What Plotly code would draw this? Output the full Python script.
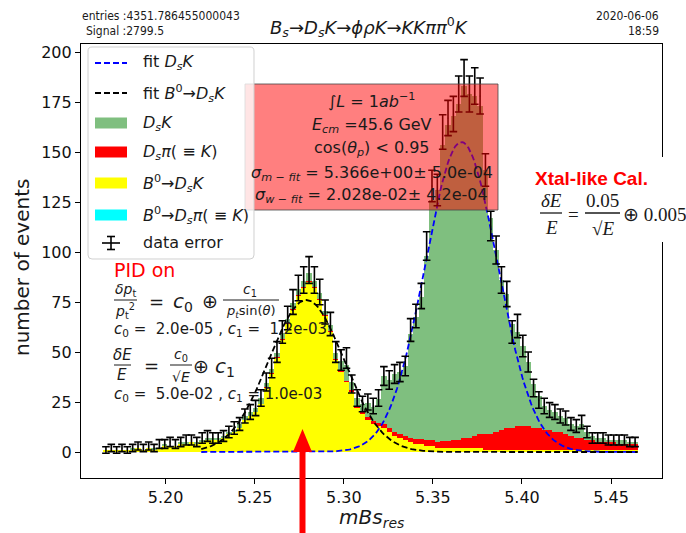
import numpy as np
import plotly.graph_objects as go

# ---------------------------------------------------------------- data
# 100 bins of the reconstructed Bs mass between 5.165 and 5.465
bin_edges = np.linspace(5.165, 5.465, 101)

data_counts = [
    1, 2, 1, 2, 1, 2, 3, 2, 3, 2,
    4, 4, 5, 4, 5, 6, 6, 5, 7, 8,
    7, 7, 8, 10, 12, 14, 18, 20, 22, 27,
    35, 42, 50, 60, 67, 75, 82, 86, 91, 86,
    80, 70, 64, 50, 46, 47, 34, 27, 24, 25,
    23, 27, 38, 36, 39, 40, 43, 61, 68, 78,
    103, 133, 131, 160, 167, 169, 179, 187, 179, 183,
    178, 141, 113, 101, 86, 79, 60, 63, 53, 45,
    32, 26, 23, 21, 20, 18, 17, 14, 13, 15,
    10, 7, 7, 7, 6, 6, 6, 6, 5, 5,
]
data_err = [
    1.6, 1.8, 1.6, 1.8, 1.6, 1.8, 2.0, 1.8, 2.0, 1.8,
    2.2, 2.2, 2.3, 2.2, 2.3, 2.5, 2.5, 2.3, 2.6, 2.7,
    2.6, 2.6, 2.7, 2.9, 3.1, 3.2, 3.5, 3.7, 3.8, 4.1,
    4.5, 4.9, 5.2, 5.6, 5.9, 6.2, 6.4, 6.6, 6.7, 6.6,
    6.4, 6.0, 5.8, 5.2, 5.1, 5.1, 4.5, 4.1, 3.9, 4.0,
    3.9, 4.1, 4.7, 4.6, 4.7, 4.8, 4.9, 5.7, 5.9, 6.3,
    7.1, 7.9, 7.9, 8.6, 8.8, 8.8, 9.0, 9.2, 9.0, 9.1,
    9.0, 8.1, 7.4, 7.0, 6.6, 6.3, 5.6, 5.8, 5.4, 5.0,
    4.4, 4.1, 3.9, 3.7, 3.7, 3.5, 3.5, 3.2, 3.2, 3.3,
    2.9, 2.6, 2.6, 2.6, 2.5, 2.5, 2.5, 2.5, 2.3, 2.3,
]
b0_dsk = [
    1, 1, 1, 1, 1, 1, 2, 1, 2, 1,
    2, 3, 3, 3, 4, 4, 5, 4, 5, 6,
    6, 6, 7, 9, 10, 12, 16, 18, 20, 24,
    32, 39, 47, 56, 64, 71, 78, 82, 85, 82,
    76, 68, 60, 46, 40, 35, 30, 22, 19, 16,
    14, 13, 12, 10, 8, 7, 6, 5, 4, 4,
    3, 3, 2, 2, 2, 2, 2, 2, 2, 2,
    2, 1, 1, 1, 1, 1, 1, 1, 1, 1,
    1, 1, 1, 1, 1, 1, 1, 1, 1, 1,
    1, 1, 1, 1, 1, 1, 1, 1, 1, 1,
]
b0_dspi = [0] * 100
dspi = [
    0, 0, 0, 0, 0, 0, 0, 0, 0, 0,
    0, 0, 0, 0, 0, 0, 0, 0, 0, 0,
    0, 0, 0, 0, 0, 0, 0, 0, 0, 0,
    0.5, 0.5, 0.5, 0.5, 0.5, 0.5, 0.5, 0.5, 0.5, 0.5,
    0.5, 0.5, 0.5, 0.5, 0.5, 0.5, 1, 1, 1, 1.5,
    1.5, 1.5, 2, 2, 2, 2, 2, 2, 2.5, 2.5,
    3, 3, 3, 3.5, 3.5, 4, 4, 5, 5, 6,
    7, 8, 8, 9, 10, 11, 11, 12, 12, 12,
    11, 11, 10, 10, 9, 9, 8, 7, 6, 6,
    5, 5, 4, 4, 4, 4, 3, 3, 3, 3,
]
dsk = [
    0, 0, 0, 0, 0, 1, 0, 0, 0, 1,
    0, 1, 0, 0, 1, 1, 0, 1, 1, 1,
    1, 1, 1, 1, 1, 2, 2, 2, 2, 3,
    2, 2, 2, 3, 2, 3, 3, 3, 4, 3,
    3, 2, 3, 3, 5, 8, 4, 4, 4, 7,
    7, 12, 24, 24, 29, 31, 35, 52, 61, 71,
    92, 120, 126, 148, 158, 162, 168, 176, 172, 170,
    164, 132, 108, 91, 75, 67, 52, 47, 40, 32,
    22, 16, 12, 10, 10, 8, 8, 6, 6, 7,
    4, 2, 2, 2, 1, 1, 2, 2, 1, 1,
]

# fitted Gaussian shapes (mean, width, height)
fit_dsk = (5.366, 0.02028, 155.0)
fit_b0 = (5.279, 0.0210, 76.0)
fit_range = (5.22, 5.465)

# ---------------------------------------------------------------- page geometry
W, H = 686, 533
PL, PR, PT, PB = 81, 662, 44, 478


def px(x):
    return (x - PL) / (PR - PL)


def py(y):
    return (PB - y) / (PB - PT)


def pt(x, y):
    return f"{px(x):.5f},{py(y):.5f}"


centers = 0.5 * (bin_edges[:-1] + bin_edges[1:])
bw = bin_edges[1] - bin_edges[0]

fig = go.Figure()

# stacked histogram components, bottom to top
for vals, col in [(b0_dsk, "#ffff00"), (b0_dspi, "#00ffff"),
                  (dspi, "#ff0000"), (dsk, "#7fbf7f")]:
    fig.add_trace(go.Bar(x=centers, y=vals, width=bw, marker_color=col,
                         marker_line_width=0, showlegend=False,
                         hoverinfo="skip"))


def gauss(x, mean, sigma, amp):
    return amp * np.exp(-0.5 * ((x - mean) / sigma) ** 2)


xf = np.linspace(fit_range[0], fit_range[1], 300)
fig.add_trace(go.Scatter(x=xf, y=gauss(xf, *fit_dsk), mode="lines",
                         line=dict(color="#0000ff", width=1.8, dash="6px,3px"),
                         showlegend=False))
fig.add_trace(go.Scatter(x=xf, y=gauss(xf, *fit_b0), mode="lines",
                         line=dict(color="black", width=1.8, dash="6px,3px"),
                         showlegend=False))

fig.add_trace(go.Scatter(x=centers, y=data_counts, mode="markers",
                         marker=dict(size=1, color="black"),
                         error_y=dict(type="data", array=data_err,
                                      color="black", thickness=1.6, width=3.8),
                         showlegend=False))

shapes = []
ann = []

TXT = "#1a1a1a"
SANS = "DejaVu Sans"
SERIF = "Liberation Serif"


def text(s, x, y, size=16, color=TXT, xa="center", ya="middle", family=SANS,
         angle=0):
    ann.append(dict(text=s, x=px(x), y=py(y), xref="paper", yref="paper",
                    xanchor=xa, yanchor=ya, showarrow=False, textangle=angle,
                    font=dict(size=size, color=color, family=family)))


def hline(x0, x1, y, color=TXT, w=1.0):
    shapes.append(dict(type="line", xref="paper", yref="paper",
                       x0=px(x0), x1=px(x1), y0=py(y), y1=py(y),
                       line=dict(color=color, width=w), layer="above"))


def vline(x, y0, y1, color=TXT, w=1.0):
    shapes.append(dict(type="line", xref="paper", yref="paper",
                       x0=px(x), x1=px(x), y0=py(y0), y1=py(y1),
                       line=dict(color=color, width=w), layer="above"))


def rect(x0, y0, x1, y1, fill, line=None, lw=0):
    shapes.append(dict(type="rect", xref="paper", yref="paper",
                       x0=px(x0), x1=px(x1), y0=py(y1), y1=py(y0),
                       fillcolor=fill,
                       line=dict(color=line or "rgba(0,0,0,0)", width=lw),
                       layer="above"))


# ---- axis titles
text("<i>mBs</i><sub><i>res</i></sub>", 371, 518, size=20)
text("number of events", 22, 268, size=20, angle=-90)

# ---- info box
rect(245, 84, 498, 210, "rgba(255,0,0,0.5)", "rgba(70,70,70,0.8)", 1)
cx = 371.5
text("∫<i>L</i> = 1<i>ab</i><sup>−1</sup>", cx, 100)
text("<i>E</i><sub><i>cm</i></sub> =45.6 GeV", cx, 125)
text("cos(<i>θ</i><sub><i>p</i></sub>) < 0.95", cx, 148)
text("<i>σ</i><sub><i>m − fit</i></sub> = 5.366e+00± 5.0e-04", cx, 173)
text("<i>σ</i><sub><i>w − fit</i></sub> = 2.028e-02± 4.2e-04", cx, 195)

# ---- legend
x0, y0, x1, y1, r = 88, 47, 254, 259, 4
path = (f"M {pt(x0 + r, y0)} L {pt(x1 - r, y0)} Q {pt(x1, y0)} {pt(x1, y0 + r)} "
        f"L {pt(x1, y1 - r)} Q {pt(x1, y1)} {pt(x1 - r, y1)} "
        f"L {pt(x0 + r, y1)} Q {pt(x0, y1)} {pt(x0, y1 - r)} "
        f"L {pt(x0, y0 + r)} Q {pt(x0, y0)} {pt(x0 + r, y0)} Z")
shapes.append(dict(type="path", path=path, xref="paper", yref="paper",
                   fillcolor="rgba(255,255,255,0.8)",
                   line=dict(color="#d0d0d0", width=1), layer="above"))

rows = [63, 93, 123, 152, 183, 215, 243]
labels = [
    "fit <i>D</i><sub><i>s</i></sub><i>K</i>",
    "fit <i>B</i><sup>0</sup>→<i>D</i><sub><i>s</i></sub><i>K</i>",
    "<i>D</i><sub><i>s</i></sub><i>K</i>",
    "<i>D</i><sub><i>s</i></sub><i>π</i>( ≡ <i>K</i>)",
    "<i>B</i><sup>0</sup>→<i>D</i><sub><i>s</i></sub><i>K</i>",
    "<i>B</i><sup>0</sup>→<i>D</i><sub><i>s</i></sub><i>π</i>( ≡ <i>K</i>)",
    "data error",
]
for yy, lab in zip(rows, labels):
    text(lab, 141, yy, size=16, xa="left")

for yy, col in [(rows[0], "#0000ff"), (rows[1], "black")]:
    shapes.append(dict(type="line", xref="paper", yref="paper",
                       x0=px(95), x1=px(127), y0=py(yy), y1=py(yy),
                       line=dict(color=col, width=1.8, dash="6px,3px"),
                       layer="above"))
for yy, col in zip(rows[2:6], ["#7fbf7f", "#ff0000", "#ffff00", "#00ffff"]):
    rect(95, yy - 5.5, 127, yy + 5.5, col)
# error-bar glyph
ge = rows[6]
vline(111, ge - 6.5, ge + 6.5, "black", 1.6)
hline(107, 115, ge - 6.5, "black", 1.6)
hline(107, 115, ge + 6.5, "black", 1.6)
hline(102, 120, ge, "black", 1.6)

# ---- PID annotation
text("PID on", 112, 270, size=19, color="#ff0000", xa="left")
text("<i>δp</i><sub>t</sub>", 125, 290, size=14)
hline(114, 137, 300)
text("<i>p</i><sub>t</sub><sup>2</sup>", 125, 311, size=14)
text("=", 156, 301, size=18)
text("<i>c</i><sub>0</sub>", 183, 302, size=20)
text("⊕", 210, 301, size=19)
text("<i>c</i><sub>1</sub>", 250, 290, size=14)
hline(223, 279, 300)
text("<i>p</i><sub><i>t</i></sub>sin(<i>θ</i>)", 251, 311, size=13)
text("<i>c</i><sub>0</sub> =  2.0e-05 , <i>c</i><sub>1</sub> =  1.2e-03",
     112, 329, size=15, xa="left")
text("<i>δE</i>", 122, 355, size=15)
hline(114, 131, 365)
text("<i>E</i>", 122, 375, size=15)
text("=", 151, 365, size=18)
text("<i>c</i><sub>0</sub>", 181, 355, size=14)
hline(170, 192, 365)
text("√<i>E</i>", 181, 377, size=14)
text("⊕", 201, 366, size=19)
text("<i>c</i><sub>1</sub>", 213, 367, size=20, xa="left")
text("<i>c</i><sub>0</sub> =  5.0e-02 , <i>c</i><sub>1</sub> = 1.0e-03",
     112, 394, size=15, xa="left")

# ---- calorimeter resolution note
rect(528, 157, 700, 242, "white")
text("<b>Xtal-like Cal.</b>", 533, 178, size=19, color="#ff0000", xa="left",
     family="Liberation Sans")
text("<i>δE</i>", 551, 200, size=19, family=SERIF)
hline(540, 562, 213, w=1.3)
text("<i>E</i>", 551, 227, size=19, family=SERIF)
text("=", 573, 214, size=19, family=SERIF)
text("0.05", 602, 200, size=19, family=SERIF)
hline(585, 620, 213, w=1.3)
text("√<i>E</i>", 603, 228, size=19, family=SERIF)
text("⊕ 0.005", 621, 214, size=19, xa="left", family=SERIF)

# ---- arrow pointing at the B0 peak
vline(302.5, 450, 540, "#ff0000", 6)
shapes.append(dict(type="path", xref="paper", yref="paper",
                   path=f"M {pt(293, 452)} L {pt(312, 452)} L {pt(302.5, 429)} Z",
                   fillcolor="#ff0000", line=dict(width=0), layer="above"))

# ---- header texts
HDR = "DejaVu Sans Condensed, DejaVu Sans"
text("entries :4351.786455000043", 80, 16, size=12, xa="left", family=HDR)
text("Signal :2799.5", 84, 31, size=12, xa="left", family=HDR)
text("2020-06-06", 661, 16, size=12, xa="right", family=HDR)
text("18:59", 661, 31, size=12, xa="right", family=HDR)
text("<i>B</i><sub><i>s</i></sub>→<i>D</i><sub><i>s</i></sub><i>K</i>→<i>ϕρK</i>"
     "→<i>KKππ</i><sup>0</sup><i>K</i>", 369, 27, size=18)

xt = [5.20, 5.25, 5.30, 5.35, 5.40, 5.45]
yt = [0, 25, 50, 75, 100, 125, 150, 175, 200]

fig.update_layout(
    width=W, height=H,
    margin=dict(l=PL, r=W - PR, t=PT, b=H - PB, pad=0, autoexpand=False),
    paper_bgcolor="white", plot_bgcolor="white",
    barmode="stack", bargap=0,
    font=dict(family=SANS, size=16, color="#111"),
    shapes=shapes, annotations=ann,
    xaxis=dict(range=[5.1525, 5.4786], tickvals=xt,
               ticktext=[f"{v:.2f}" for v in xt], automargin=False,
               ticks="outside", ticklen=5, tickwidth=1, tickcolor="black",
               showline=True, linecolor="black", linewidth=1.2, mirror=True,
               showgrid=False, zeroline=False),
    yaxis=dict(range=[-13, 204], tickvals=yt, automargin=False,
               ticks="outside", ticklen=5, tickwidth=1, tickcolor="black",
               showline=True, linecolor="black", linewidth=1.2, mirror=True,
               showgrid=False, zeroline=False),
)

fig.write_html("out.html")
